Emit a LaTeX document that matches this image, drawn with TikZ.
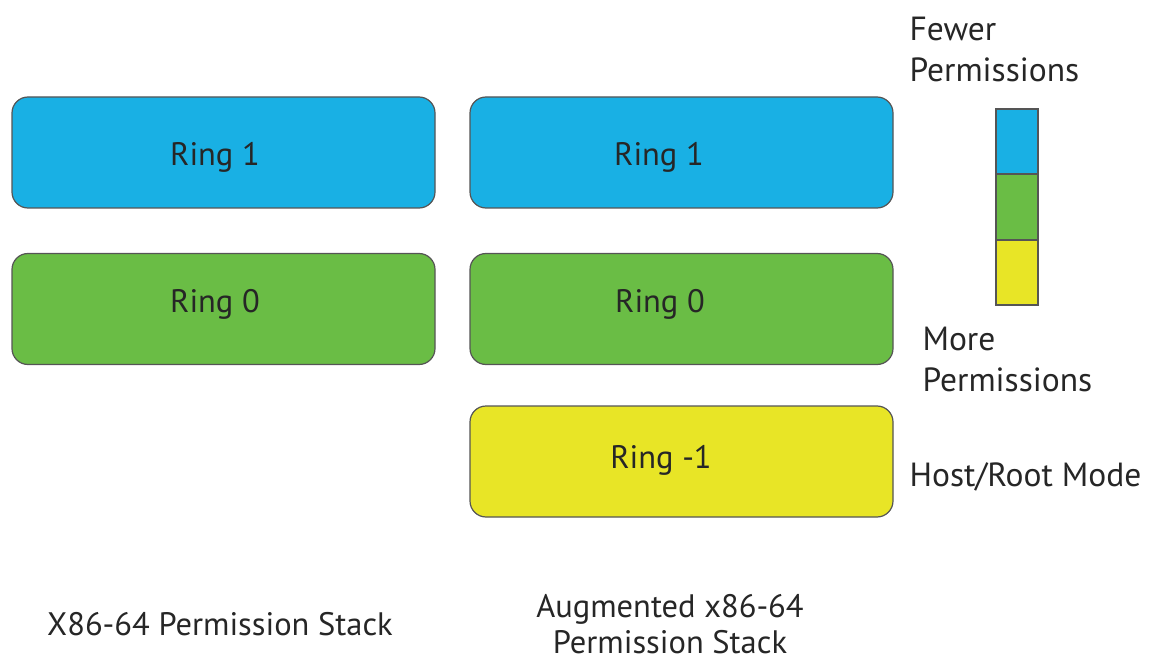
\documentclass[tikz,border=0pt]{standalone}
\usepackage{fontspec}
\setmainfont{PT Sans}
\definecolor{ringblue}{HTML}{19B0E4}
\definecolor{ringgreen}{HTML}{6ABD45}
\definecolor{ringyellow}{HTML}{E8E526}
\definecolor{edgegray}{HTML}{555555}
\begin{document}
\begin{tikzpicture}[x=1pt,y=-1pt,
  ringbox/.style={draw=edgegray, line width=1.2pt, rounded corners=16pt,
    minimum width=423pt, minimum height=111pt, inner sep=0pt},
  ringtext/.style={font=\fontsize{32.5}{36}\selectfont, text=black!85},
  legbox/.style={draw=edgegray, line width=1.2pt, minimum width=42pt,
    minimum height=65pt, inner sep=0pt},
  legtext/.style={font=\fontsize{33.5}{41}\selectfont, text=black!85, align=left, anchor=west}]
\useasboundingbox (0,0) rectangle (1154,663);
% left column
\node[ringbox, fill=ringblue] (l1) at (223.5,152.5) {};
\node[ringtext] (l1t) at (215,157) {Ring 1};
\node[ringbox, fill=ringgreen] (l0) at (223.5,309) {};
\node[ringtext] (l0t) at (215,304) {Ring 0};
% right column
\node[ringbox, fill=ringblue] (r1) at (681.5,152.5) {};
\node[ringtext] (r1t) at (659,157) {Ring 1};
\node[ringbox, fill=ringgreen] (r0) at (681.5,309) {};
\node[ringtext] (r0t) at (660,304) {Ring 0};
\node[ringbox, fill=ringyellow] (rm1) at (681.5,461.5) {};
\node[ringtext] (rm1t) at (661,460) {Ring -1};
% legend bar
\node[legbox, fill=ringblue] (lg1) at (1017,141.5) {};
\node[legbox, fill=ringgreen] (lg0) at (1017,207) {};
\node[legbox, fill=ringyellow] (lgm1) at (1017,272.5) {};
% legend texts
\node[legtext] (fewer) at (906,49) {Fewer\\Permissions};
\node[legtext] (more) at (919,359) {More\\Permissions};
\node[legtext] (host) at (906,477) {Host/Root Mode};
% captions
\node[ringtext] (capl) at (220,624) {X86-64 Permission Stack};
\node[ringtext, align=center, font=\fontsize{32.5}{36}\selectfont] (capr) at (670,624) {Augmented x86-64\\Permission Stack};
\end{tikzpicture}
\end{document}
